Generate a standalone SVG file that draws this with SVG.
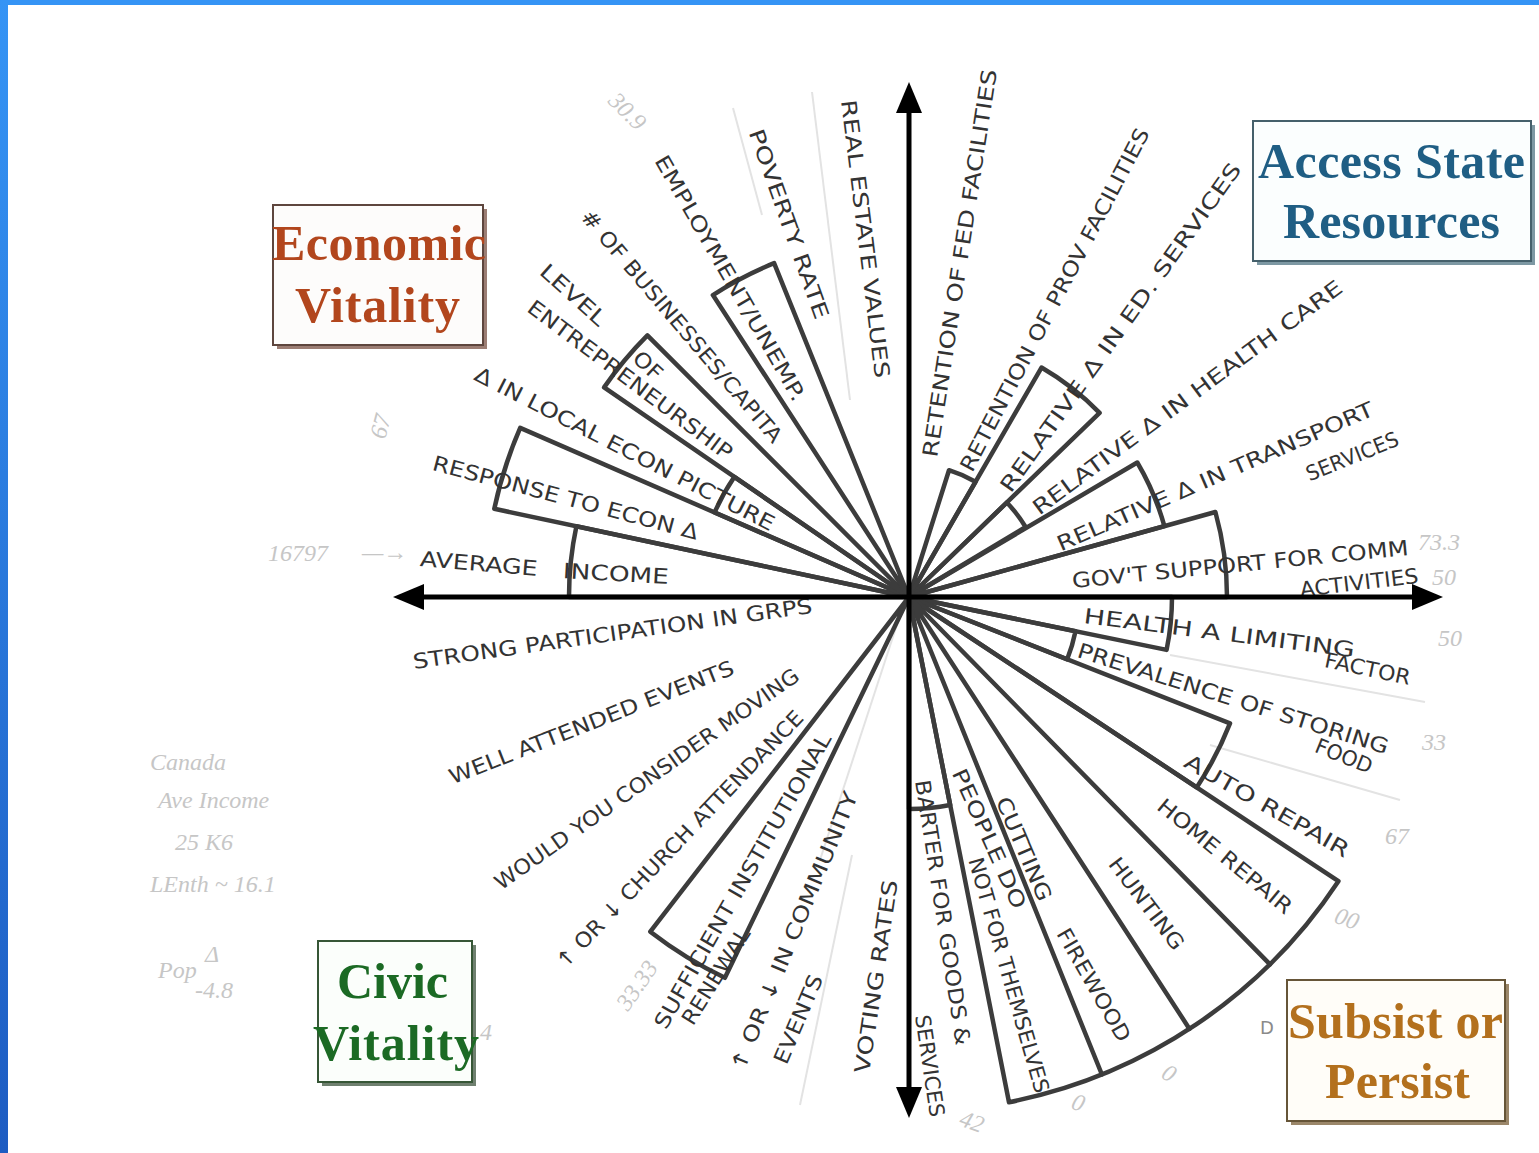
<svg xmlns="http://www.w3.org/2000/svg" width="1539" height="1153" viewBox="0 0 1539 1153">
<defs>
<linearGradient id="bl" x1="0" y1="0" x2="0" y2="1">
<stop offset="0" stop-color="#3594f5"/>
<stop offset="1" stop-color="#1d5cc2"/>
</linearGradient>
<style>
.w{fill:none;stroke:#3c3c3c;stroke-width:4.5;stroke-linejoin:round;stroke-linecap:round}
.ax{stroke:#000;stroke-width:5}
.ah{fill:#000}
.h{font-family:"DejaVu Sans",sans-serif;font-size:21px;fill:#333;dominant-baseline:central}
.f{font-family:"Liberation Serif",serif;font-style:italic;font-size:24px;fill:#c6c6c6}
.p{stroke:#e3e3e3;stroke-width:2;fill:none}
.t{font-family:"Liberation Serif",serif;font-weight:bold;font-size:50px}
</style>
</defs>
<rect x="0" y="0" width="1539" height="1153" fill="#ffffff"/>
<rect x="0" y="0" width="1539" height="5" fill="#3594f5"/>
<rect x="0" y="0" width="8" height="1153" fill="url(#bl)"/>

<!-- faint pencil guide lines -->
<g id="pencil">
<path class="p" d="M812,92 L850,400"/>
<path class="p" d="M733,108 L762,215"/>
<path class="p" d="M1170,655 L1425,702"/>
<path class="p" d="M1210,745 L1400,800"/>
<path class="p" d="M852,855 L800,1105"/>
<path class="p" d="M905,600 L820,860"/>
</g>

<!-- faint annotations -->
<g id="notes">
<text class="f" transform="translate(607,102) rotate(45)">30.9</text>
<text class="f" x="268" y="561" font-style="normal">16797</text>
<text class="f" x="362" y="560" font-style="normal">—→</text>
<text class="f" transform="translate(385,440) rotate(-75)">67</text>
<text class="f" x="1418" y="550">73.3</text>
<text class="f" x="1432" y="585">50</text>
<text class="f" x="1438" y="646">50</text>
<text class="f" x="1422" y="750">33</text>
<text class="f" x="1385" y="844">67</text>
<text class="f" transform="translate(1333,922) rotate(20)">00</text>
<text class="f" transform="translate(1160,1077) rotate(30)">0</text>
<text class="f" transform="translate(1070,1108) rotate(20)">0</text>
<text class="f" transform="translate(958,1125) rotate(20)">42</text>
<text class="f" transform="translate(628,1012) rotate(-55)">33.33</text>
<text class="f" x="150" y="770">Canada</text>
<text class="f" x="158" y="808">Ave Income</text>
<text class="f" x="175" y="850">25 K6</text>
<text class="f" x="150" y="892">LEnth ~ 16.1</text>
<text class="f" x="158" y="978">Pop</text>
<text class="f" x="205" y="962" font-size="18">Δ</text>
<text class="f" x="195" y="998">-4.8</text>
<text class="f" x="480" y="1040">4</text>
<text x="1260" y="1034" font-family="DejaVu Sans, sans-serif" font-size="18" fill="#8a8a8a">D</text>
</g>

<!-- wedges: Economic Vitality -->
<g id="average-income">
<path class="w" d="M909,597 L569,597 A340,340 0 0 1 576.4,526.3 Z"/>
<text class="h" transform="translate(420,559) rotate(4.8)" textLength="118" lengthAdjust="spacingAndGlyphs">AVERAGE</text>
<text class="h" transform="translate(563,571) rotate(3.2)" textLength="106" lengthAdjust="spacingAndGlyphs">INCOME</text>
</g>
<g id="response-econ">
<path class="w" d="M909,597 L494.3,508.8 A424,424 0 0 1 520.2,427.9 Z"/>
<text class="h" transform="translate(433,463) rotate(14.8)" textLength="274" lengthAdjust="spacingAndGlyphs">RESPONSE TO ECON Δ</text>
</g>
<g id="local-econ">
<path class="w" d="M909,597 L714.6,512.5 A212,212 0 0 1 734.3,476.9 Z"/>
<text class="h" transform="translate(476,373) rotate(27.1)" textLength="334" lengthAdjust="spacingAndGlyphs">Δ IN LOCAL ECON PICTURE</text>
</g>
<g id="entrepreneurship">
<path class="w" d="M909,597 L604.1,387.4 A370,370 0 0 1 647.4,335.4 Z"/>
<text class="h" transform="translate(543,268) rotate(42)" textLength="81" lengthAdjust="spacingAndGlyphs">LEVEL</text>
<text class="h" transform="translate(636,355) rotate(43)" textLength="32" lengthAdjust="spacingAndGlyphs">OF</text>
<text class="h" transform="translate(530,305) rotate(36.9)" textLength="250" lengthAdjust="spacingAndGlyphs">ENTREPRENEURSHIP</text>
</g>
<g id="businesses">
<text class="h" transform="translate(585,213) rotate(49.6)" textLength="298" lengthAdjust="spacingAndGlyphs"># OF BUSINESSES/CAPITA</text>
</g>
<g id="employment">
<path class="w" d="M909,597 L712.9,295.1 A360,360 0 0 1 774.1,263.2 Z"/>
<text class="h" transform="translate(660,157) rotate(60)" textLength="280" lengthAdjust="spacingAndGlyphs">EMPLOYMENT/UNEMP.</text>
</g>
<g id="poverty">
<text class="h" transform="translate(755,130) rotate(70.4)" textLength="200" lengthAdjust="spacingAndGlyphs">POVERTY RATE</text>
</g>
<g id="real-estate">
<text class="h" transform="translate(848,100) rotate(83)" textLength="280" lengthAdjust="spacingAndGlyphs">REAL ESTATE VALUES</text>
</g>

<!-- Access State Resources -->
<g id="fed-facilities">
<path class="w" d="M909,597 L949,470.2 A133,133 0 0 1 975.5,481.8 Z"/>
<text class="h" transform="translate(930,457) rotate(-81.2)" textLength="392" lengthAdjust="spacingAndGlyphs">RETENTION OF FED FACILITIES</text>
</g>
<g id="prov-facilities">
<text class="h" transform="translate(966,470) rotate(-62.4)" textLength="384" lengthAdjust="spacingAndGlyphs">RETENTION OF PROV FACILITIES</text>
</g>
<g id="ed-services">
<path class="w" d="M909,597 L1041.5,367.5 A265,265 0 0 1 1099.6,412.9 Z"/>
<text class="h" transform="translate(1005,490) rotate(-54.5)" textLength="399" lengthAdjust="spacingAndGlyphs">RELATIVE Δ IN ED. SERVICES</text>
</g>
<g id="health-care">
<path class="w" d="M909,597 L1006.8,502.5 A136,136 0 0 1 1025.6,527 Z"/>
<text class="h" transform="translate(1035,510) rotate(-36.4)" textLength="379" lengthAdjust="spacingAndGlyphs">RELATIVE Δ IN HEALTH CARE</text>
</g>
<g id="transport">
<path class="w" d="M909,597 L1137.3,462.5 A265,265 0 0 1 1164.4,526.2 Z"/>
<text class="h" transform="translate(1058,545) rotate(-23.5)" textLength="343" lengthAdjust="spacingAndGlyphs">RELATIVE Δ IN TRANSPORT</text>
<text class="h" transform="translate(1307,475) rotate(-22)" textLength="98" lengthAdjust="spacingAndGlyphs">SERVICES</text>
</g>
<g id="govt-support">
<path class="w" d="M909,597 L1215.4,512 A318,318 0 0 1 1227,597 Z"/>
<text class="h" transform="translate(1072,581) rotate(-5.6)" textLength="338" lengthAdjust="spacingAndGlyphs">GOV'T SUPPORT FOR COMM</text>
<text class="h" transform="translate(1300,590) rotate(-6.8)" textLength="119" lengthAdjust="spacingAndGlyphs">ACTIVITIES</text>
</g>

<!-- Subsist or Persist -->
<g id="health-limiting">
<path class="w" d="M909,597 L1172,597 A263,263 0 0 1 1166.6,649.9 Z"/>
<text class="h" transform="translate(1084,616) rotate(7.2)" textLength="273" lengthAdjust="spacingAndGlyphs">HEALTH A LIMITING</text>
<text class="h" transform="translate(1325,660) rotate(12)" textLength="87" lengthAdjust="spacingAndGlyphs">FACTOR</text>
</g>
<g id="storing-food">
<path class="w" d="M909,597 L1075.5,631.2 A170,170 0 0 1 1067.2,659.3 Z"/>
<text class="h" transform="translate(1078,650) rotate(17.5)" textLength="325" lengthAdjust="spacingAndGlyphs">PREVALENCE OF STORING</text>
<text class="h" transform="translate(1316,745) rotate(22)" textLength="60" lengthAdjust="spacingAndGlyphs">FOOD</text>
</g>
<g id="auto-repair">
<path class="w" d="M909,597 L1230,723.4 A345,345 0 0 1 1196.7,787.4 Z"/>
<text class="h" transform="translate(1186,760) rotate(29.6)" textLength="186" lengthAdjust="spacingAndGlyphs">AUTO REPAIR</text>
</g>
<g id="self-reliance">
<path class="w" d="M909,597 L1338.4,881.2 A515,515 0 0 1 1009,1102.2 Z"/>
<path class="w" d="M909,597 L1270,964.3 M909,597 L1189.5,1028.9 M909,597 L1101.9,1074.5"/>
<text class="h" transform="translate(1160,803) rotate(39.5)" textLength="168" lengthAdjust="spacingAndGlyphs">HOME REPAIR</text>
<text class="h" transform="translate(1113,860) rotate(52.7)" textLength="110" lengthAdjust="spacingAndGlyphs">HUNTING</text>
<text class="h" transform="translate(1002,798) rotate(67)" textLength="111" lengthAdjust="spacingAndGlyphs">CUTTING</text>
<text class="h" transform="translate(1062,930) rotate(60.2)" textLength="127" lengthAdjust="spacingAndGlyphs">FIREWOOD</text>
<text class="h" transform="translate(958,770) rotate(65.8)" textLength="151" lengthAdjust="spacingAndGlyphs">PEOPLE DO</text>
<text class="h" transform="translate(975,858) rotate(74)" textLength="244" lengthAdjust="spacingAndGlyphs">NOT FOR THEMSELVES</text>
</g>
<g id="barter">
<path class="w" d="M909,597 L950.2,805 A212,212 0 0 1 909,809 Z"/>
<text class="h" transform="translate(922,780) rotate(81.2)" textLength="268" lengthAdjust="spacingAndGlyphs">BARTER FOR GOODS &amp;</text>
<text class="h" transform="translate(922,1015) rotate(81.6)" textLength="103" lengthAdjust="spacingAndGlyphs">SERVICES</text>
</g>

<!-- Civic Vitality -->
<g id="participation">
<text class="h" transform="translate(413,662) rotate(-8)" textLength="403" lengthAdjust="spacingAndGlyphs">STRONG PARTICIPATION IN GRPS</text>
</g>
<g id="events">
<text class="h" transform="translate(450,778) rotate(-21.4)" textLength="304" lengthAdjust="spacingAndGlyphs">WELL ATTENDED EVENTS</text>
</g>
<g id="moving">
<text class="h" transform="translate(497,885) rotate(-35.2)" textLength="367" lengthAdjust="spacingAndGlyphs">WOULD YOU CONSIDER MOVING</text>
</g>
<g id="church">
<text class="h" transform="translate(560,965) rotate(-46.3)" textLength="347" lengthAdjust="spacingAndGlyphs">↑ OR ↓ CHURCH ATTENDANCE</text>
</g>
<g id="renewal">
<path class="w" d="M909,597 L724.9,977.8 A423,423 0 0 1 650.3,931.7 Z"/>
<text class="h" transform="translate(660,1027) rotate(-60.4)" textLength="336" lengthAdjust="spacingAndGlyphs">SUFFICIENT INSTITUTIONAL</text>
<text class="h" transform="translate(687,1023) rotate(-58)" textLength="110" lengthAdjust="spacingAndGlyphs">RENEWAL</text>
</g>
<g id="community-events">
<text class="h" transform="translate(737,1070) rotate(-67.5)" textLength="300" lengthAdjust="spacingAndGlyphs">↑ OR ↓ IN COMMUNITY</text>
<text class="h" transform="translate(780,1063) rotate(-67)" textLength="95" lengthAdjust="spacingAndGlyphs">EVENTS</text>
</g>
<g id="voting">
<text class="h" transform="translate(862,1073) rotate(-81.5)" textLength="195" lengthAdjust="spacingAndGlyphs">VOTING RATES</text>
</g>

<!-- axes (connectors) -->
<g id="connectors">
<line class="ax" x1="418" y1="597" x2="1418" y2="597"/>
<line class="ax" x1="909" y1="108" x2="909" y2="1092"/>
<polygon class="ah" points="393,597 424,584 424,610"/>
<polygon class="ah" points="1443,597 1412,584 1412,610"/>
<polygon class="ah" points="909,82 896,113 922,113"/>
<polygon class="ah" points="909,1118 896,1087 922,1087"/>
</g>

<!-- title boxes -->
<g id="economic-vitality">
<rect x="277" y="209" width="210" height="140" fill="#9c7e74"/>
<rect x="273" y="205" width="210" height="140" fill="#fdfcfb" stroke="#5e463e" stroke-width="2"/>
<text class="t" x="272" y="260" fill="#b2461d" textLength="214">Economic</text>
<text class="t" x="295" y="322" fill="#b2461d" textLength="165">Vitality</text>
</g>
<g id="access-state-resources">
<rect x="1257" y="125" width="278" height="140" fill="#7d98a3"/>
<rect x="1253" y="121" width="278" height="140" fill="#fbfefe" stroke="#45606b" stroke-width="2"/>
<text class="t" x="1258" y="178" fill="#1f5e84" textLength="267">Access State</text>
<text class="t" x="1283" y="238" fill="#1f5e84" textLength="217">Resources</text>
</g>
<g id="civic-vitality">
<rect x="322" y="945" width="154" height="141" fill="#6f806f"/>
<rect x="318" y="941" width="154" height="141" fill="#fbfefb" stroke="#365636" stroke-width="2"/>
<text class="t" x="337" y="998" fill="#1b6a24" textLength="111">Civic</text>
<text class="t" x="313" y="1060" fill="#1b6a24" textLength="166">Vitality</text>
</g>
<g id="subsist-or-persist">
<rect x="1291" y="984" width="218" height="141" fill="#9b876a"/>
<rect x="1287" y="980" width="218" height="141" fill="#fffdf8" stroke="#665538" stroke-width="2"/>
<text class="t" x="1288" y="1038" fill="#b3701d" textLength="215">Subsist or</text>
<text class="t" x="1325" y="1098" fill="#b3701d" textLength="145">Persist</text>
</g>
</svg>
